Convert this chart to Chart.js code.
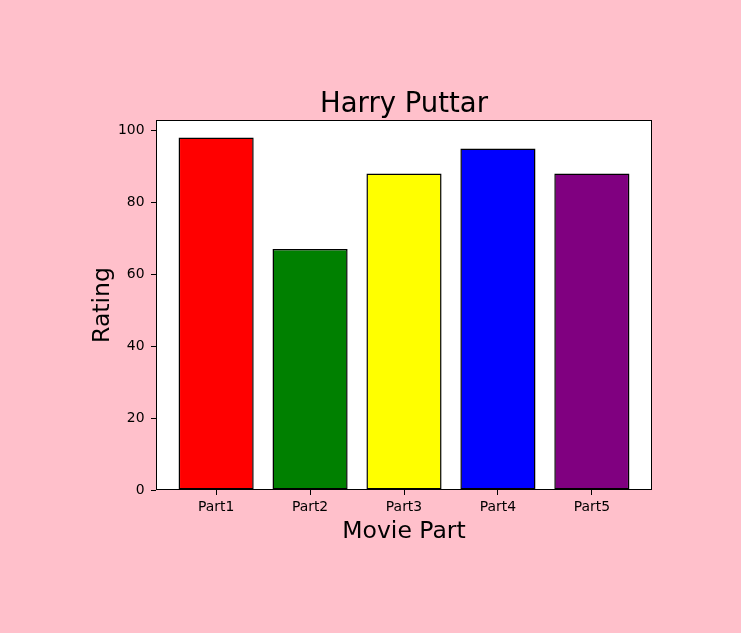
<!DOCTYPE html>
<html>
<head>
<meta charset="utf-8">
<script src="https://cdn.jsdelivr.net/npm/chart.js@4"></script>
<style>
html,body{margin:0;padding:0;background:#ffc0cb;}
#wrap{width:741px;height:633px;}
</style>
</head>
<body>
<div id="wrap"><canvas id="c" width="741" height="633"></canvas></div>
<script>
const categories = ["Part1", "Part2", "Part3", "Part4", "Part5"];
const ratings = [98, 67, 88, 95, 88];
const barColors = ["red", "green", "yellow", "blue", "purple"];
const yTicks = [0, 20, 40, 60, 80, 100];
const titleText = "Harry Puttar";
const xLabel = "Movie Part";
const yLabel = "Rating";

const FONT = "'DejaVu Sans', sans-serif";

const bgPlugin = {
  id: 'bg',
  beforeDraw(chart) {
    const {ctx, chartArea: a} = chart;
    ctx.save();
    ctx.fillStyle = '#ffc0cb';
    ctx.fillRect(0, 0, chart.width, chart.height);
    ctx.fillStyle = '#ffffff';
    ctx.fillRect(a.left, a.top, a.right - a.left, a.bottom - a.top);
    ctx.restore();
  },
  afterDatasetsDraw(chart) {
    const {ctx, chartArea: a} = chart;
    ctx.save();
    ctx.strokeStyle = '#000';
    ctx.lineWidth = 1;
    ctx.strokeRect(Math.round(a.left) + 0.5, Math.round(a.top) + 0.5, Math.round(a.right - a.left) - 1, Math.round(a.bottom - a.top) - 1);
    ctx.restore();
  }
};

new Chart(document.getElementById('c'), {
  type: 'bar',
  data: {
    datasets: [{
      data: categories.map((c, i) => ({x: i, y: ratings[i]})),
      backgroundColor: barColors,
      borderColor: '#000',
      borderWidth: 1.5,
      borderSkipped: false,
      barPercentage: 0.8,
      categoryPercentage: 1.0
    }]
  },
  options: {
    responsive: false,
    animation: false,
    devicePixelRatio: 1,
    layout: {padding: {left: 0, right: 89, top: 0, bottom: 0}},
    plugins: {
      legend: {display: false},
      tooltip: {enabled: false},
      title: {
        display: true,
        text: titleText,
        fullSize: false,
        color: '#000',
        font: {family: FONT, size: 27.5, weight: 'normal', lineHeight: 1.0},
        padding: {top: 91.5, bottom: 1}
      }
    },
    scales: {
      x: {
        type: 'linear',
        min: -0.64,
        max: 4.64,
        offset: false,
        afterBuildTicks(s) { s.ticks = categories.map((c, i) => ({value: i})); },
        afterFit(s) { s.height = 143; },
        ticks: {
          autoSkip: false,
          maxRotation: 0,
          color: '#000',
          padding: 4,
          font: {family: FONT, size: 13.9},
          callback: (v) => categories[v]
        },
        grid: {display: true, offset: false, drawOnChartArea: false, drawTicks: true, tickLength: 5, tickColor: '#000', tickWidth: 1},
        border: {display: false},
        title: {
          display: true,
          text: xLabel,
          color: '#000',
          font: {family: FONT, size: 23.5, lineHeight: 1.2},
          padding: {top: 0, bottom: 87}
        }
      },
      y: {
        type: 'linear',
        min: 0,
        max: 102.9,
        afterBuildTicks(s) { s.ticks = yTicks.map(v => ({value: v})); },
        afterFit(s) { s.width = 156; },
        ticks: {
          color: '#000',
          padding: 6.5,
          font: {family: FONT, size: 13.9}
        },
        grid: {display: true, drawOnChartArea: false, drawTicks: true, tickLength: 5, tickColor: '#000', tickWidth: 1},
        border: {display: false},
        title: {
          display: true,
          text: yLabel,
          color: '#000',
          font: {family: FONT, size: 23.5, lineHeight: 1.2},
          padding: {top: 89, bottom: 0}
        }
      }
    }
  },
  plugins: [bgPlugin]
});
</script>
</body>
</html>
